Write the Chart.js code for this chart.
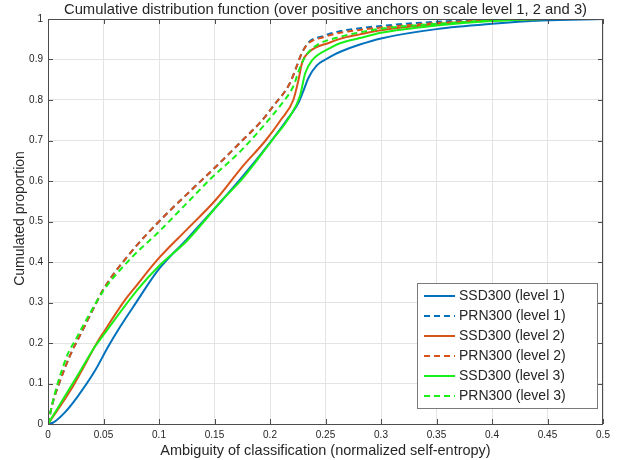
<!DOCTYPE html>
<html>
<head>
<meta charset="utf-8">
<script src="https://cdn.jsdelivr.net/npm/chart.js@4/dist/chart.umd.min.js"></script>
<style>
  html,body{margin:0;padding:0;background:#fff;}
  #wrap{width:618px;height:460px;}
</style>
</head>
<body>
<div id="wrap"><canvas id="cdf" width="618" height="460"></canvas></div>
<script>
// === Data ===
const xTickLabels = ['0','0.05','0.1','0.15','0.2','0.25','0.3','0.35','0.4','0.45','0.5'];
const yTickLabels = ['0','0.1','0.2','0.3','0.4','0.5','0.6','0.7','0.8','0.9','1'];

const ssd1X = [0,0.005,0.015,0.027,0.042,0.054,0.065,0.077,0.1,0.125,0.157,0.175,0.2,0.215,0.2256,0.23,0.2347,0.242,0.25,0.257,0.265,0.281,0.3,0.35,0.4,0.445,0.5];
const ssd1Y = [0,0.004,0.028,0.069,0.13,0.19,0.24,0.29,0.383,0.456,0.553,0.61,0.695,0.75,0.793,0.822,0.855,0.885,0.9,0.911,0.921,0.937,0.952,0.975,0.988,0.996,1];

const prn1X = [0,0.004,0.01,0.02,0.03,0.04,0.05,0.075,0.1,0.125,0.15,0.175,0.191,0.203,0.218,0.224,0.2287,0.2347,0.248,0.263,0.281,0.3,0.35,0.4,0.45,0.5];
const prn1Y = [0,0.05,0.1,0.17,0.225,0.28,0.333,0.425,0.5,0.567,0.632,0.7,0.744,0.785,0.842,0.883,0.916,0.942,0.958,0.97,0.977,0.983,0.993,0.998,1,1];

const ssd2X = [0,0.01,0.0207,0.03,0.044,0.05,0.0696,0.0777,0.1,0.125,0.151,0.175,0.196,0.21,0.221,0.2257,0.229,0.235,0.254,0.263,0.281,0.3,0.35,0.4,0.45,0.5];
const ssd2Y = [0,0.04,0.085,0.13,0.2,0.226,0.307,0.335,0.41,0.48,0.553,0.635,0.7,0.752,0.8,0.85,0.893,0.918,0.942,0.951,0.962,0.972,0.987,0.996,1,1];

const prn2X = prn1X;
const prn2Y = [0,0.05,0.1,0.17,0.225,0.28,0.333,0.425,0.5,0.567,0.632,0.7,0.744,0.785,0.842,0.883,0.916,0.94,0.955,0.966,0.973,0.979,0.99,0.997,1,1];

const ssd3X = [0,0.01,0.02,0.03,0.042,0.05,0.0807,0.1,0.125,0.157,0.175,0.2017,0.218,0.227,0.2317,0.2377,0.254,0.263,0.281,0.3,0.35,0.4,0.45,0.5];
const ssd3Y = [0,0.045,0.09,0.135,0.19,0.22,0.332,0.39,0.452,0.553,0.605,0.7,0.76,0.81,0.866,0.897,0.928,0.94,0.953,0.966,0.984,0.995,1,1];

const prn3X = [0,0.003,0.0087,0.0177,0.025,0.0357,0.0507,0.075,0.1,0.125,0.146,0.175,0.2,0.209,0.221,0.227,0.233,0.242,0.263,0.281,0.3,0.35,0.4,0.45,0.5];
const prn3Y = [0,0.04,0.1,0.172,0.209,0.263,0.332,0.41,0.475,0.545,0.604,0.678,0.755,0.785,0.834,0.88,0.912,0.935,0.956,0.967,0.976,0.988,0.996,1,1];

const seriesNames = ['SSD300 (level 1)','PRN300 (level 1)','SSD300 (level 2)','PRN300 (level 2)','SSD300 (level 3)','PRN300 (level 3)'];

// === Style ===
const BLUE='#0072BD', ORANGE='#D95319', GREEN='#18F018';
const DASH=[6,4];
const FONT='"Liberation Sans", Arial, sans-serif';
const INK='#262626';

const pts = (xs,ys)=>xs.map((x,i)=>({x, y:ys[i]}));
function ds(i, xs, ys, color, dashed){
  return {
    label: seriesNames[i], data: pts(xs,ys),
    borderColor: color, backgroundColor: color,
    borderWidth: 2, borderDash: dashed ? DASH : [],
    pointRadius: 0, cubicInterpolationMode: 'monotone',
    order: 6 - i   // later series on top, like the original
  };
}

// === Plugin: box, inner ticks, titles, legend ===
const decor = {
  id: 'decor',
  afterDraw(chart){
    const {ctx, chartArea:a, scales:{x, y}} = chart;
    ctx.save();
    // frame
    ctx.strokeStyle = '#4d4d4d'; ctx.lineWidth = 1;
    ctx.strokeRect(Math.round(a.left)+0.5, Math.round(a.top)+0.5, Math.round(a.right-a.left)-1, Math.round(a.bottom-a.top));
    // inner ticks
    ctx.beginPath();
    x.ticks.forEach(t=>{ const px = Math.round(x.getPixelForValue(t.value))+0.5;
      ctx.moveTo(px, a.bottom); ctx.lineTo(px, a.bottom-5);
      ctx.moveTo(px, a.top); ctx.lineTo(px, a.top+5); });
    y.ticks.forEach(t=>{ const py = Math.round(y.getPixelForValue(t.value))+0.5;
      ctx.moveTo(a.left, py); ctx.lineTo(a.left+5, py);
      ctx.moveTo(a.right, py); ctx.lineTo(a.right-5, py); });
    ctx.stroke();
    // titles
    ctx.fillStyle = INK; ctx.textAlign = 'center'; ctx.textBaseline = 'middle';
    const cx = (a.left + a.right)/2;
    ctx.font = '14.8px ' + FONT;
    ctx.fillText('Cumulative distribution function (over positive anchors on scale level 1, 2 and 3)', cx, 10);
    ctx.font = '14.5px ' + FONT;
    ctx.fillText('Ambiguity of classification (normalized self-entropy)', cx, 451);
    ctx.font = '14px ' + FONT;
    ctx.save(); ctx.translate(20, (a.top+a.bottom)/2 - 3); ctx.rotate(-Math.PI/2);
    ctx.fillText('Cumulated proportion', 0, 0); ctx.restore();
    // legend
    const L = 417.5, T = 283.5, W = 180, H = 125;
    ctx.fillStyle = '#fff'; ctx.fillRect(L, T, W, H);
    ctx.strokeStyle = '#7a7a7a'; ctx.strokeRect(L, T, W, H);
    ctx.textAlign = 'left';
    chart.data.datasets.forEach((d,i)=>{
      const ry = 296 + i*20;
      ctx.beginPath(); ctx.strokeStyle = d.borderColor; ctx.lineWidth = 2;
      ctx.setLineDash(d.borderDash); ctx.moveTo(424, ry); ctx.lineTo(455, ry); ctx.stroke();
      ctx.setLineDash([]);
      ctx.fillStyle = INK; ctx.fillText(d.label, 459, ry);
    });
    ctx.restore();
  }
};

new Chart(document.getElementById('cdf'), {
  type: 'line',
  data: { datasets: [
    ds(0, ssd1X, ssd1Y, BLUE, false),
    ds(1, prn1X, prn1Y, BLUE, true),
    ds(2, ssd2X, ssd2Y, ORANGE, false),
    ds(3, prn2X, prn2Y, ORANGE, true),
    ds(4, ssd3X, ssd3Y, GREEN, false),
    ds(5, prn3X, prn3Y, GREEN, true)
  ]},
  options: {
    responsive: false, animation: false,
    layout: { padding: { top: 19, right: 15, left: 0, bottom: 0 } },
    plugins: { legend: { display: false }, tooltip: { enabled: false }, title: { display: false } },
    scales: {
      x: { type: 'linear', min: 0, max: 0.5,
           afterFit: s => { s.height = 36; },
           ticks: { stepSize: 0.05, padding: 5, color: INK, font: { family: FONT, size: 10 },
                    callback: (v, i) => xTickLabels[i] },
           grid: { color: '#e3e3e3', drawTicks: false },
           border: { display: false } },
      y: { type: 'linear', min: 0, max: 1,
           afterFit: s => { s.width = 48; },
           ticks: { stepSize: 0.1, padding: 5, color: INK, font: { family: FONT, size: 10 },
                    callback: (v, i) => yTickLabels[i] },
           grid: { color: '#e3e3e3', drawTicks: false },
           border: { display: false } }
    }
  },
  plugins: [decor]
});
</script>
</body>
</html>
